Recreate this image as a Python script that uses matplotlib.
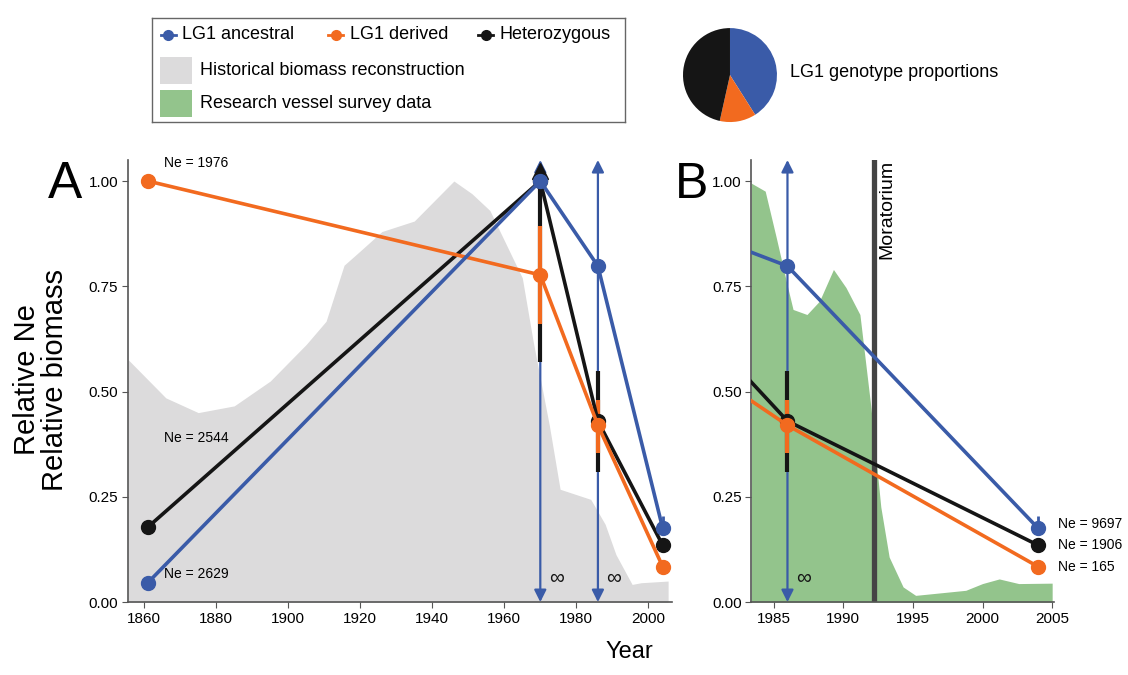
import matplotlib
matplotlib.use("Agg")
import matplotlib.pyplot as plt
import matplotlib.patches as mpatches

plt.rcParams['font.family'] = ['Liberation Sans', 'DejaVu Sans']

blue = '#3a5ba8'
orange = '#f26a1f'
black = '#151515'
grey_fill = '#dcdbdc'
green_fill = '#93c48c'

# Ne estimates (relative)
years = [1861, 1970, 1986, 2004]
ancestral = [0.046, 1.0, 0.798, 0.175]
derived = [1.0, 0.777, 0.42, 0.084]
hetero = [0.178, 1.0, 0.43, 0.135]

# confidence intervals
ci_years = [1970, 1986]
der_lo = [0.66, 0.355]
der_hi = [0.893, 0.48]
het_lo = [0.57, 0.31]
het_hi = [1.0, 0.55]
anc_inf_years = [1970, 1986]
anc_2004_ci = [0.165, 0.205]

ne_labels_a = ['Ne = 1976', 'Ne = 2544', 'Ne = 2629']
ne_labels_a_y = [1.043, 0.39, 0.066]
ne_labels_b = ['Ne = 9697', 'Ne = 1906', 'Ne = 165']

# historical biomass reconstruction
hist_year = [1855.5, 1866, 1875, 1885, 1895, 1905, 1910.5, 1915.5, 1920, 1926, 1935,
             1946, 1951, 1956, 1960.5, 1965, 1968, 1972.5, 1975.5, 1984, 1988, 1991,
             1995.5, 1998, 2005.5]
hist_val = [0.576, 0.485, 0.45, 0.466, 0.525, 0.612, 0.667, 0.80, 0.834, 0.88, 0.905,
            1.0, 0.97, 0.93, 0.85, 0.77, 0.62, 0.42, 0.268, 0.244, 0.185, 0.113,
            0.042, 0.046, 0.05]

# research vessel survey
rv_year = [1983.4, 1984.4, 1985.2, 1986.0, 1986.4, 1987.4, 1988.3, 1989.3, 1990.2, 1991.2,
           1992.0, 1992.7, 1993.3, 1994.3, 1995.2, 1997.6, 1998.8, 2000.0, 2001.2, 2002.6,
           2005.0]
rv_val = [0.995, 0.976, 0.865, 0.75, 0.695, 0.683, 0.715, 0.79, 0.747, 0.683,
          0.46, 0.226, 0.107, 0.036, 0.016, 0.024, 0.028, 0.044, 0.055, 0.044,
          0.045]

moratorium = 1992.2
pie_props = [0.41, 0.125, 0.465]

fig = plt.figure(figsize=(11.28, 6.75), dpi=100)
axA = fig.add_axes([0.1135, 0.108, 0.482, 0.655])
axB = fig.add_axes([0.666, 0.108, 0.268, 0.655])


def style(ax):
    for s in ['top', 'right']:
        ax.spines[s].set_visible(False)
    for s in ['left', 'bottom']:
        ax.spines[s].set_color('#555555')
        ax.spines[s].set_linewidth(1.2)
    ax.tick_params(direction='out', length=4, color='#555555', labelsize=11, pad=3)
    ax.set_ylim(0, 1.05)
    ax.set_yticks([0, 0.25, 0.5, 0.75, 1.0])
    ax.set_yticklabels(['%.2f' % v for v in [0, 0.25, 0.5, 0.75, 1.0]])


def draw_ne(ax):
    for x in anc_inf_years:
        ax.annotate('', xy=(x, 1.05), xytext=(x, 0.0),
                    arrowprops=dict(arrowstyle='<|-|>', color=blue, lw=1.6,
                                    mutation_scale=18, shrinkA=0, shrinkB=0),
                    zorder=3)
        ax.annotate('∞', xy=(x, 0.055), xytext=(6, 0), textcoords='offset points',
                    fontsize=15, va='center', ha='left', color=black)
    ax.vlines(ci_years, het_lo, het_hi, color=black, lw=3, zorder=4)
    ax.vlines(ci_years, der_lo, der_hi, color=orange, lw=3, zorder=5)
    ax.vlines([years[-1]], anc_2004_ci[0], anc_2004_ci[1], color=blue, lw=2, zorder=5)
    ax.plot(years, hetero, color=black, lw=2.6, marker='o', ms=10, zorder=6)
    ax.plot([years[1]], [hetero[1] + 0.025], ls='none', marker='^', color=black, ms=12,
            zorder=6)
    ax.plot(years, derived, color=orange, lw=2.6, marker='o', ms=10, zorder=7)
    ax.plot(years, ancestral, color=blue, lw=2.6, marker='o', ms=10, zorder=8)


style(axA)
axA.fill_between(hist_year, hist_val, 0, color=grey_fill, lw=0, zorder=1)
draw_ne(axA)
axA.set_xlim(1855.5, 2006.5)
axA.set_xticks(range(1860, 2001, 20))
axA.text(1865.5, ne_labels_a_y[0], ne_labels_a[0], fontsize=10, va='center', ha='left')
axA.text(1865.5, ne_labels_a_y[1], ne_labels_a[1], fontsize=10, va='center', ha='left')
axA.text(1865.5, ne_labels_a_y[2], ne_labels_a[2], fontsize=10, va='center', ha='left')

style(axB)
axB.fill_between(rv_year, rv_val, 0, color=green_fill, lw=0, zorder=1)
axB.axvline(moratorium, color='#444444', lw=3.8, zorder=2)
axB.text(moratorium + 0.35, 1.05, 'Moratorium', rotation=90, fontsize=14,
         ha='left', va='top')
draw_ne(axB)
axB.set_xlim(1983.4, 2005.1)
axB.set_xticks(range(1985, 2006, 5))
for yv, lab in zip([ancestral[-1] + 0.01, hetero[-1], derived[-1]], ne_labels_b):
    axB.annotate(lab, xy=(years[-1], yv), xytext=(14, 0), textcoords='offset points',
                 fontsize=10, va='center', ha='left', annotation_clip=False)

fig.text(0.058, 0.726, 'A', fontsize=37, ha='center', va='center')
fig.text(0.613, 0.726, 'B', fontsize=36, ha='center', va='center')
fig.text(0.036, 0.437, 'Relative Ne\nRelative biomass', rotation=90, fontsize=21,
         ha='center', va='center', multialignment='center', linespacing=1.0)
fig.text(0.558, 0.018, 'Year', fontsize=17, ha='center', va='bottom')

# legend box
leg = fig.add_axes([0.1348, 0.819, 0.419, 0.154])
leg.set_xlim(0, 1)
leg.set_ylim(0, 1)
leg.set_xticks([])
leg.set_yticks([])
for s in leg.spines.values():
    s.set_color('#666666')
    s.set_linewidth(1.0)
for xm, col, lab in [(0.034, blue, 'LG1 ancestral'), (0.389, orange, 'LG1 derived'),
                     (0.706, black, 'Heterozygous')]:
    leg.plot([xm - 0.016, xm + 0.016], [0.84, 0.84], color=col, lw=2)
    leg.plot([xm], [0.84], color=col, marker='o', ms=7)
    leg.text(xm + 0.029, 0.84, lab, fontsize=13, va='center', ha='left')
leg.add_patch(mpatches.Rectangle((0.017, 0.37), 0.068, 0.26, color=grey_fill, lw=0))
leg.text(0.101, 0.5, 'Historical biomass reconstruction', fontsize=13, va='center')
leg.add_patch(mpatches.Rectangle((0.017, 0.05), 0.068, 0.26, color=green_fill, lw=0))
leg.text(0.101, 0.18, 'Research vessel survey data', fontsize=13, va='center')

# pie
pie_ax = fig.add_axes([0.6046, 0.8178, 0.0851, 0.142])
pie_ax.pie(pie_props, colors=[blue, orange, black], startangle=90, counterclock=False)
pie_ax.set_xlim(-1.02, 1.02)
pie_ax.set_ylim(-1.02, 1.02)
pie_ax.set_aspect('equal')
fig.text(0.700, 0.893, 'LG1 genotype proportions', fontsize=13, va='center', ha='left')

fig.savefig('out.png', dpi=100)
